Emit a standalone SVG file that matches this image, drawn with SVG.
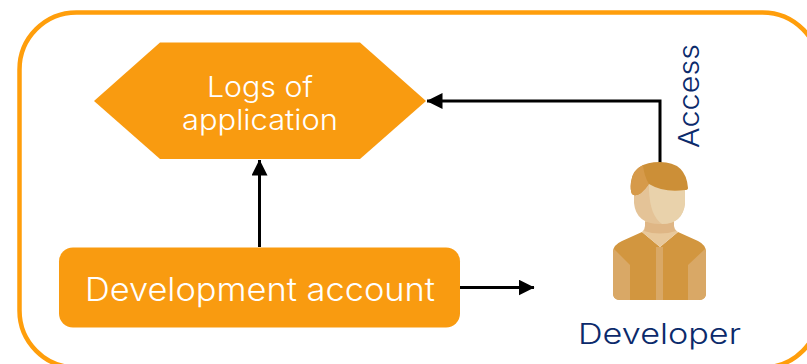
<svg xmlns="http://www.w3.org/2000/svg" width="807" height="364" viewBox="0 0 807 364">
<style>
.n{fill:#f99b10}
.w{fill:#fff;font-family:"Inter","Open Sans",sans-serif;font-weight:300}
.b{fill:#0b2a6b;font-family:"Inter","Open Sans",sans-serif;font-weight:300}
.c{fill:none;stroke:#000;stroke-width:3}
</style>
<defs>
<marker id="a" markerUnits="userSpaceOnUse" markerWidth="16" markerHeight="16" refX="15.500" refY="8" orient="auto"><path d="M0 0L16 8L0 16Z" fill="#000"/></marker>
</defs>
<rect id="frame" x="19.500" y="12.500" width="800" height="355" rx="57" ry="57" fill="#fff" stroke="#ff9e0b" stroke-width="4.500"/>
<g id="connectors">
<path class="c" d="M259.500 247V160" marker-end="url(#a)"/>
<path class="c" d="M460 287.500H534" marker-end="url(#a)"/>
<path class="c" d="M660 163V101H427" marker-end="url(#a)"/>
</g>
<g id="logs">
<polygon class="n" points="94,101 160,42.500 360,42.500 426,101 360,159 160,159"/>
<text class="w" x="260" y="97" font-size="28" text-anchor="middle" textLength="106" lengthAdjust="spacingAndGlyphs">Logs of</text>
<text class="w" x="260" y="130" font-size="28" text-anchor="middle" textLength="156" lengthAdjust="spacingAndGlyphs">application</text>
</g>
<g id="account">
<rect class="n" x="59" y="247.500" width="401" height="80" rx="14"/>
<text class="w" x="260" y="301" font-size="32" text-anchor="middle" textLength="350" lengthAdjust="spacingAndGlyphs">Development account</text>
</g>
<g id="developer">
<path d="M613 252Q613 245 622 241L642 232L660 247L678 232L698 241Q706 245 706 252V293Q706 300 699 300H620Q613 300 613 293Z" fill="#d2963f"/>
<path d="M614 249L630 265V300H620Q613 300 613 293V252Z" fill="#d9a866"/>
<path d="M705 249L688 265V300H699Q706 300 706 293V252Z" fill="#d9a866"/>
<rect x="656" y="247" width="7" height="53" fill="#d9a866"/>
<path d="M645 215H674V226Q674 229 678 232L660 247L642 232Q645 229 645 226Z" fill="#e8c89b"/>
<path d="M645 222H674V226Q674 229 676 231Q660 236 644 231Q645 229 645 226Z" fill="#dfb685"/>
<path d="M634 185H685V203Q683 224 660 224Q636 224 634 203Z" fill="#e4c397"/>
<path d="M649 180H685V203Q683 224 662 224Q650 216 649 190Z" fill="#e9d2ab"/>
<path d="M631 182Q634 162 660 162Q686 162 688 188Q688 190 685 190Q664 193 649 184Q646 187 641 193Q635 197 632 194Q630 190 631 182Z" fill="#cc8f37"/>
<path d="M643 165Q632 170 631 182Q630 190 632 194Q635 197 641 193Q646 189 649 184Q644 176 643 165Z" fill="#d69a4a"/>
<text class="b" x="659.500" y="344" font-size="29" text-anchor="middle" textLength="163" lengthAdjust="spacingAndGlyphs">Developer</text>
</g>
<text class="b" transform="translate(699 148) rotate(-90)" font-size="28" textLength="104" lengthAdjust="spacingAndGlyphs">Access</text>
</svg>
